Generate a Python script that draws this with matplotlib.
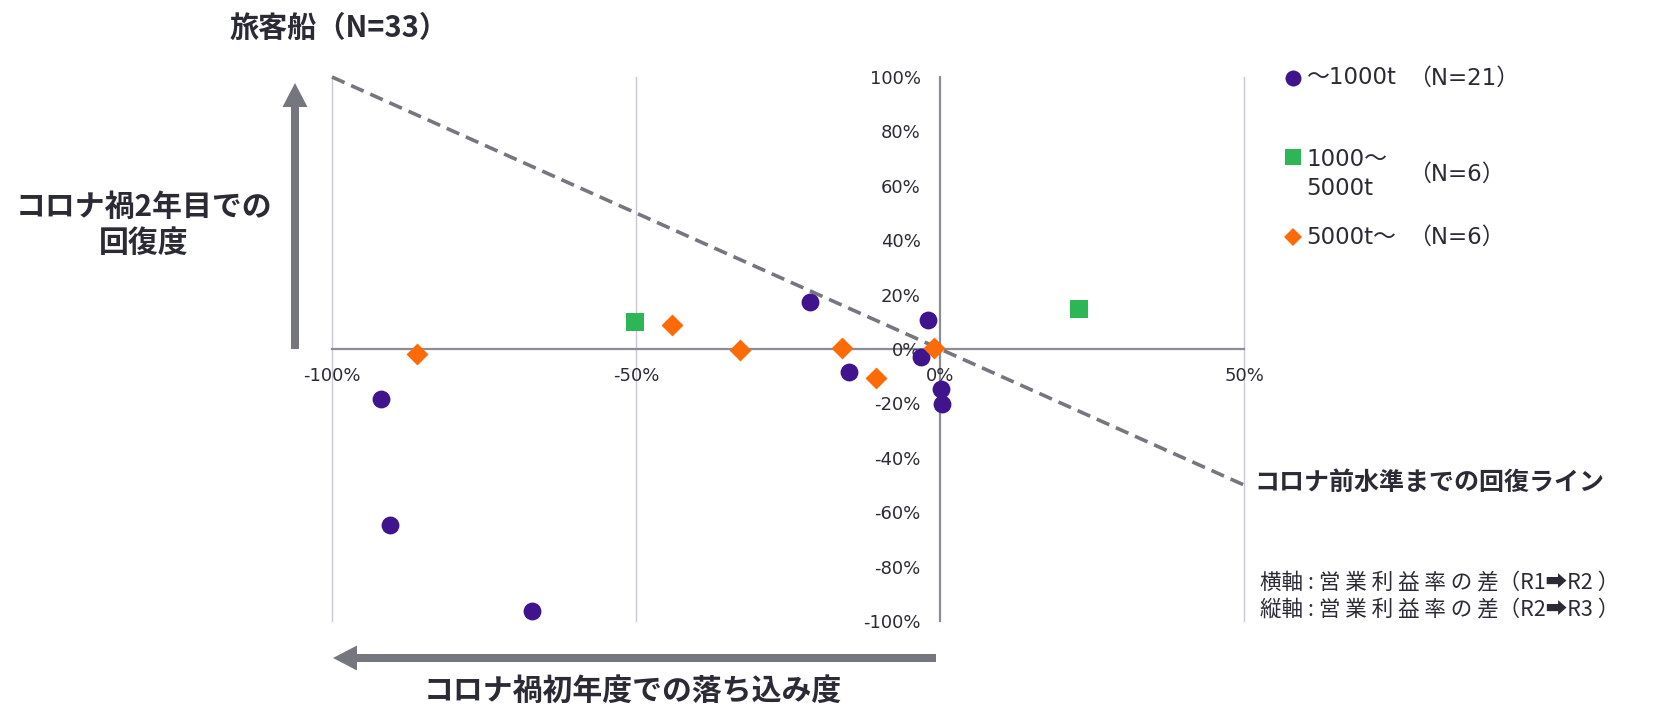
import numpy as np
import matplotlib.pyplot as plt
from matplotlib.lines import Line2D
from matplotlib.patches import FancyArrow
from matplotlib.ticker import PercentFormatter

#%% Settings
plt.rcParams['font.family'] = ['DejaVu Sans', 'Noto Sans CJK JP']
plt.rcParams['axes.unicode_minus'] = False
jp = ['Noto Sans CJK JP', 'DejaVu Sans']

W, H = 1657, 711
txt_col = '#2b2b36'
arrow_col = '#76767f'

#%% Data (% points)
# ~1000t
small_x = [-92.0, -90.4, -67.1, -21.4, -15.0, -1.9, -3.1, 0.2, 0.3]
small_y = [-18.4, -64.8, -96.5, 17.2, -8.6, 10.5, -3.1, -14.8, -20.3]
# 1000~5000t
mid_x = [-50.2, 22.8]
mid_y = [9.8, 14.8]
# 5000t~
large_x = [-86.1, -44.1, -32.9, -16.2, -10.5, -1.0]
large_y = [-2.0, 9.0, -0.4, 0.4, -10.5, 0.4]

# recovery line to pre-corona level
line_x = [-100, 50]
line_y = [100, -50]

xticks = [-100, -50, 0, 50]
yticks = [-100, -80, -60, -40, -20, 0, 20, 40, 60, 80, 100]

legend_labels = ['～1000t', '1000～\n5000t', '5000t～']
legend_counts = ['（N=21）', '（N=6）', '（N=6）']

#%% Figure
fig = plt.figure(figsize=(W/100, H/100), dpi=100)
ax = fig.add_axes([332/W, 1-621/H, (1244-332)/W, (621-77)/H])

ax.set_xlim(-100, 50)
ax.set_ylim(-100, 100)
for s in ['top', 'right']:
    ax.spines[s].set_visible(False)
ax.spines['left'].set_position(('data', 0))
ax.spines['bottom'].set_position(('data', 0))
for s in ['left', 'bottom']:
    ax.spines[s].set_color('#8c8c96')
    ax.spines[s].set_linewidth(1.6)
    ax.spines[s].set_zorder(1)

for xv in xticks:
    if xv != 0:
        ax.axvline(xv, color='#c8c8d2', lw=1.0, clip_on=False, zorder=0)

ax.set_xticks(xticks)
ax.set_yticks(yticks)
ax.xaxis.set_major_formatter(PercentFormatter(decimals=0))
ax.yaxis.set_major_formatter(PercentFormatter(decimals=0))
ax.tick_params(axis='both', length=0, labelsize=13, colors=txt_col)
ax.tick_params(axis='x', pad=13)
ax.tick_params(axis='y', pad=14)

ax.plot(line_x, line_y, color=arrow_col, lw=2.6, linestyle=(0, (3.8, 2)), zorder=2,
        clip_on=False)

ax.scatter(small_x, small_y, s=165, marker='o', color='#40148c', zorder=4, linewidths=0)
ax.scatter(mid_x, mid_y, s=165, marker='s', color='#2cb655', zorder=4, linewidths=0)
ax.scatter(large_x, large_y, s=125, marker='D', color='#fc6b08', zorder=4, linewidths=0)

#%% Overlay (pixel coordinates) for arrows and annotations
ov = fig.add_axes([0, 0, 1, 1], zorder=-1)
ov.set_xlim(0, W)
ov.set_ylim(H, 0)
ov.axis('off')

ov.add_patch(FancyArrow(295, 349, 0, 83-349, width=8, head_width=25, head_length=24,
                        length_includes_head=True, color=arrow_col, lw=0))
ov.add_patch(FancyArrow(936, 658, 333-936, 0, width=8, head_width=25, head_length=24,
                        length_includes_head=True, color=arrow_col, lw=0))

ov.text(339, 28, '旅客船（N=33）', family=jp, fontsize=21, fontweight='bold',
        color=txt_col, ha='center', va='center')
ov.text(144, 225, 'コロナ禍2年目での\n回復度', family=jp, fontsize=21.5, fontweight='bold',
        color=txt_col, ha='center', va='center', multialignment='center', linespacing=1.25)
ov.text(633, 691, 'コロナ禍初年度での落ち込み度', family=jp, fontsize=21.5, fontweight='bold',
        color=txt_col, ha='center', va='center')
ov.text(1254, 483, 'コロナ前水準までの回復ライン', family=jp, fontsize=18, fontweight='bold',
        color=txt_col, ha='left', va='center')
ov.text(1260, 583, '横軸 : 営 業 利 益 率 の 差（R1➡R2 ）', family=jp, fontsize=15.5,
        color=txt_col, ha='left', va='center')
ov.text(1260, 610, '縦軸 : 営 業 利 益 率 の 差（R2➡R3 ）', family=jp, fontsize=15.5,
        color=txt_col, ha='left', va='center')

# legend
leg_y = [78, 174, 237]
leg_marker = [('o', '#40148c', 11.5), ('s', '#2cb655', 11), ('D', '#fc6b08', 9)]
for i, (lab, cnt) in enumerate(zip(legend_labels, legend_counts)):
    mk, col, ms = leg_marker[i]
    my = leg_y[i] if i != 1 else 157
    ov.add_line(Line2D([1293], [my], marker=mk, color=col, ms=ms, mew=0, ls='none'))
    ov.text(1306, leg_y[i], lab, fontsize=16.5, color=txt_col, ha='left', va='center',
            linespacing=1.3)
    ov.text(1408, leg_y[i], cnt, fontsize=16.5, color=txt_col, ha='left', va='center')

fig.savefig('out.png', dpi=100)
